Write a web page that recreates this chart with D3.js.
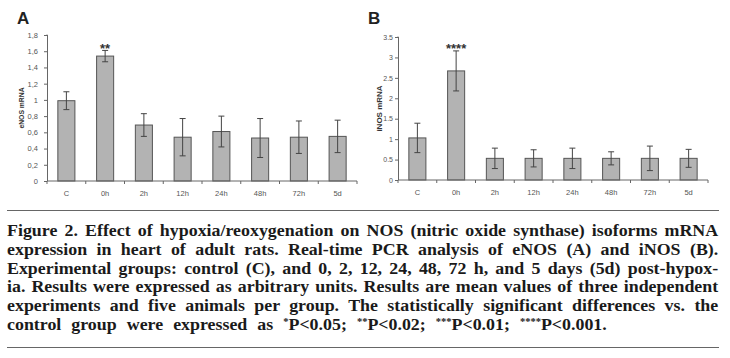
<!DOCTYPE html>
<html>
<head>
<meta charset="utf-8">
<script src="https://cdn.jsdelivr.net/npm/d3@7"></script>
<style>
body { margin: 0; background: #fff; }
svg { display: block; }
</style>
</head>
<body>
<script>
const categories = ["C", "0h", "2h", "12h", "24h", "48h", "72h", "5d"];
const enosMean = [0.99, 1.54, 0.69, 0.54, 0.61, 0.53, 0.54, 0.55];
const enosErr = [0.11, 0.07, 0.14, 0.23, 0.19, 0.24, 0.20, 0.20];
const inosMean = [1.03, 2.67, 0.53, 0.53, 0.53, 0.53, 0.53, 0.53];
const inosErr = [0.36, 0.49, 0.25, 0.21, 0.25, 0.16, 0.30, 0.22];
const enosTicks = [0, 0.2, 0.4, 0.6, 0.8, 1, 1.2, 1.4, 1.6, 1.8];
const inosTicks = [0, 0.5, 1, 1.5, 2, 2.5, 3, 3.5];
const captionLines = [
  "Figure 2. Effect of hypoxia/reoxygenation on NOS (nitric oxide synthase) isoforms mRNA",
  "expression in heart of adult rats. Real-time PCR analysis of eNOS (A) and iNOS (B).",
  "Experimental groups: control (C), and 0, 2, 12, 24, 48, 72 h, and 5 days (5d) post-hypox-",
  "ia. Results were expressed as arbitrary units. Results are mean values of three independent",
  "experiments and five animals per group. The statistically significant differences vs. the"
];

const SANS = "'Liberation Sans', Arial, sans-serif";
const SERIF = "'Liberation Serif', 'Times New Roman', serif";

const svg = d3.select("body").append("svg")
    .attr("width", 730)
    .attr("height", 358);

const commaFmt = d3.formatLocale({decimal: ",", thousands: ".", grouping: [3], currency: ["", ""]}).format(".1~f");
const dotFmt = d3.format(".1~f");

function panel(opt) {
    const g = svg.append("g");
    const x = d3.scaleBand().domain(categories).range([opt.x0, opt.x1])
        .paddingInner(0.56).paddingOuter(0.28);
    const y = d3.scaleLinear().domain([0, opt.max]).range([opt.y0, opt.y1]);

    // panel letter
    g.append("text").attr("x", opt.x0 - 30).attr("y", 24)
        .style("font-family", SANS).style("font-size", "17px").style("font-weight", "bold")
        .attr("fill", "#222").text(opt.letter);

    // bars
    g.append("g").selectAll("rect").data(opt.mean).join("rect")
        .attr("x", (d, i) => x(categories[i]))
        .attr("y", d => y(d))
        .attr("width", x.bandwidth())
        .attr("height", d => y(0) - y(d))
        .attr("fill", "#b3b3b3")
        .attr("stroke", "#555")
        .attr("stroke-width", 1);

    // error bars
    const eb = g.append("g").attr("stroke", "#444").attr("stroke-width", 1);
    opt.mean.forEach((d, i) => {
        const cx = x(categories[i]) + x.bandwidth() / 2;
        const e = opt.err[i];
        eb.append("line").attr("x1", cx).attr("x2", cx).attr("y1", y(d + e)).attr("y2", y(d - e));
        eb.append("line").attr("x1", cx - 3).attr("x2", cx + 3).attr("y1", y(d + e)).attr("y2", y(d + e));
        eb.append("line").attr("x1", cx - 3).attr("x2", cx + 3).attr("y1", y(d - e)).attr("y2", y(d - e));
    });

    // y axis
    const ya = g.append("g").attr("transform", `translate(${opt.x0},0)`)
        .call(d3.axisLeft(y).tickValues(opt.ticks).tickFormat(opt.fmt).tickSize(3).tickPadding(opt.pad));
    ya.selectAll("path, line").attr("stroke", "#666");
    ya.selectAll("text").attr("fill", "#555")
        .style("font-family", SANS).style("font-size", opt.tickFont + "px");
    ya.select(".domain").attr("d", `M-0.5,${opt.y1}H0.5V${opt.y0}H0`);

    // x axis with ticks at category boundaries
    const xa = g.append("g").attr("transform", `translate(0,${opt.y0})`);
    xa.append("line").attr("x1", opt.x0).attr("x2", opt.x1).attr("stroke", "#666");
    const bounds = d3.range(categories.length + 1).map(i => opt.x0 + i * (opt.x1 - opt.x0) / categories.length);
    xa.selectAll(".tk").data(bounds).join("line").attr("class", "tk")
        .attr("x1", d => d).attr("x2", d => d).attr("y1", 0).attr("y2", 3).attr("stroke", "#666");
    xa.selectAll(".lb").data(categories).join("text").attr("class", "lb")
        .attr("x", d => x(d) + x.bandwidth() / 2).attr("y", 15)
        .attr("text-anchor", "middle").attr("fill", "#555")
        .style("font-family", SANS).style("font-size", "7.5px").text(d => d);

    // y label
    g.append("text")
        .attr("transform", `translate(${opt.x0 - opt.labelOff},${(opt.y0 + opt.y1) / 2}) rotate(-90)`)
        .attr("text-anchor", "middle")
        .style("font-family", SANS).style("font-size", opt.labelFont + "px").style("font-weight", "bold")
        .attr("fill", "#333").text(opt.label);

    // significance mark
    g.append("text")
        .attr("x", x("0h") + x.bandwidth() / 2).attr("y", 53)
        .attr("text-anchor", "middle")
        .style("font-family", SANS).style("font-size", "13px").style("font-weight", "bold")
        .attr("fill", "#333").text(opt.star);
}

panel({letter: "A", x0: 47, x1: 357, y0: 181, y1: 35, max: 1.8, mean: enosMean, err: enosErr,
    ticks: enosTicks, fmt: commaFmt, label: "eNOS mRNA", star: "**",
    pad: 6, tickFont: 7.5, labelFont: 6.8, labelOff: 23});
panel({letter: "B", x0: 398, x1: 708, y0: 180, y1: 37, max: 3.5, mean: inosMean, err: inosErr,
    ticks: inosTicks, fmt: dotFmt, label: "iNOS mRNA", star: "****",
    pad: 2, tickFont: 7, labelFont: 8, labelOff: 16});

// caption rules
svg.append("line").attr("x1", 7).attr("x2", 719).attr("y1", 210.5).attr("y2", 210.5).attr("stroke", "#666");
svg.append("line").attr("x1", 7).attr("x2", 719).attr("y1", 347.5).attr("y2", 347.5).attr("stroke", "#666");

// caption: the original face is wider than Times, so the block is stretched
// horizontally, then each line is justified through its word gaps
const cap = svg.append("g").attr("fill", "#1a1a1a");
function capText(i) {
    return cap.append("text").attr("x", 0).attr("y", 236 + i * 18.8)
        .style("font-family", SERIF).style("font-size", "17px").style("font-weight", "bold");
}
const lines = captionLines.map((t, i) => {
    const el = capText(i).text(t);
    return {el, w: el.node().getComputedTextLength(), gaps: t.split(" ").length - 1};
});
const last = capText(5);
const parts = [["control group were expressed as ", false], ["*", true], ["P<0.05; ", false],
    ["**", true], ["P<0.02; ", false], ["***", true], ["P<0.01; ", false], ["****", true], ["P<0.001.", false]];
parts.forEach(([s, sup], i) => {
    const ts = last.append("tspan").text(s);
    if (sup) ts.attr("dy", -5).style("font-size", "10px");
    else if (i > 0) ts.attr("dy", 5);
});
const w6 = last.node().getComputedTextLength();
const sx = Math.min(606 / w6, d3.min(lines, l => 712 / (l.w + l.gaps * 1.5)));
cap.attr("transform", `translate(7,0) scale(${sx},1)`);
lines.forEach(l => l.el.style("word-spacing", ((712 / sx - l.w) / l.gaps) + "px"));
last.style("word-spacing", Math.max(0, (606 / sx - w6) / 9) + "px");
</script>
</body>
</html>
